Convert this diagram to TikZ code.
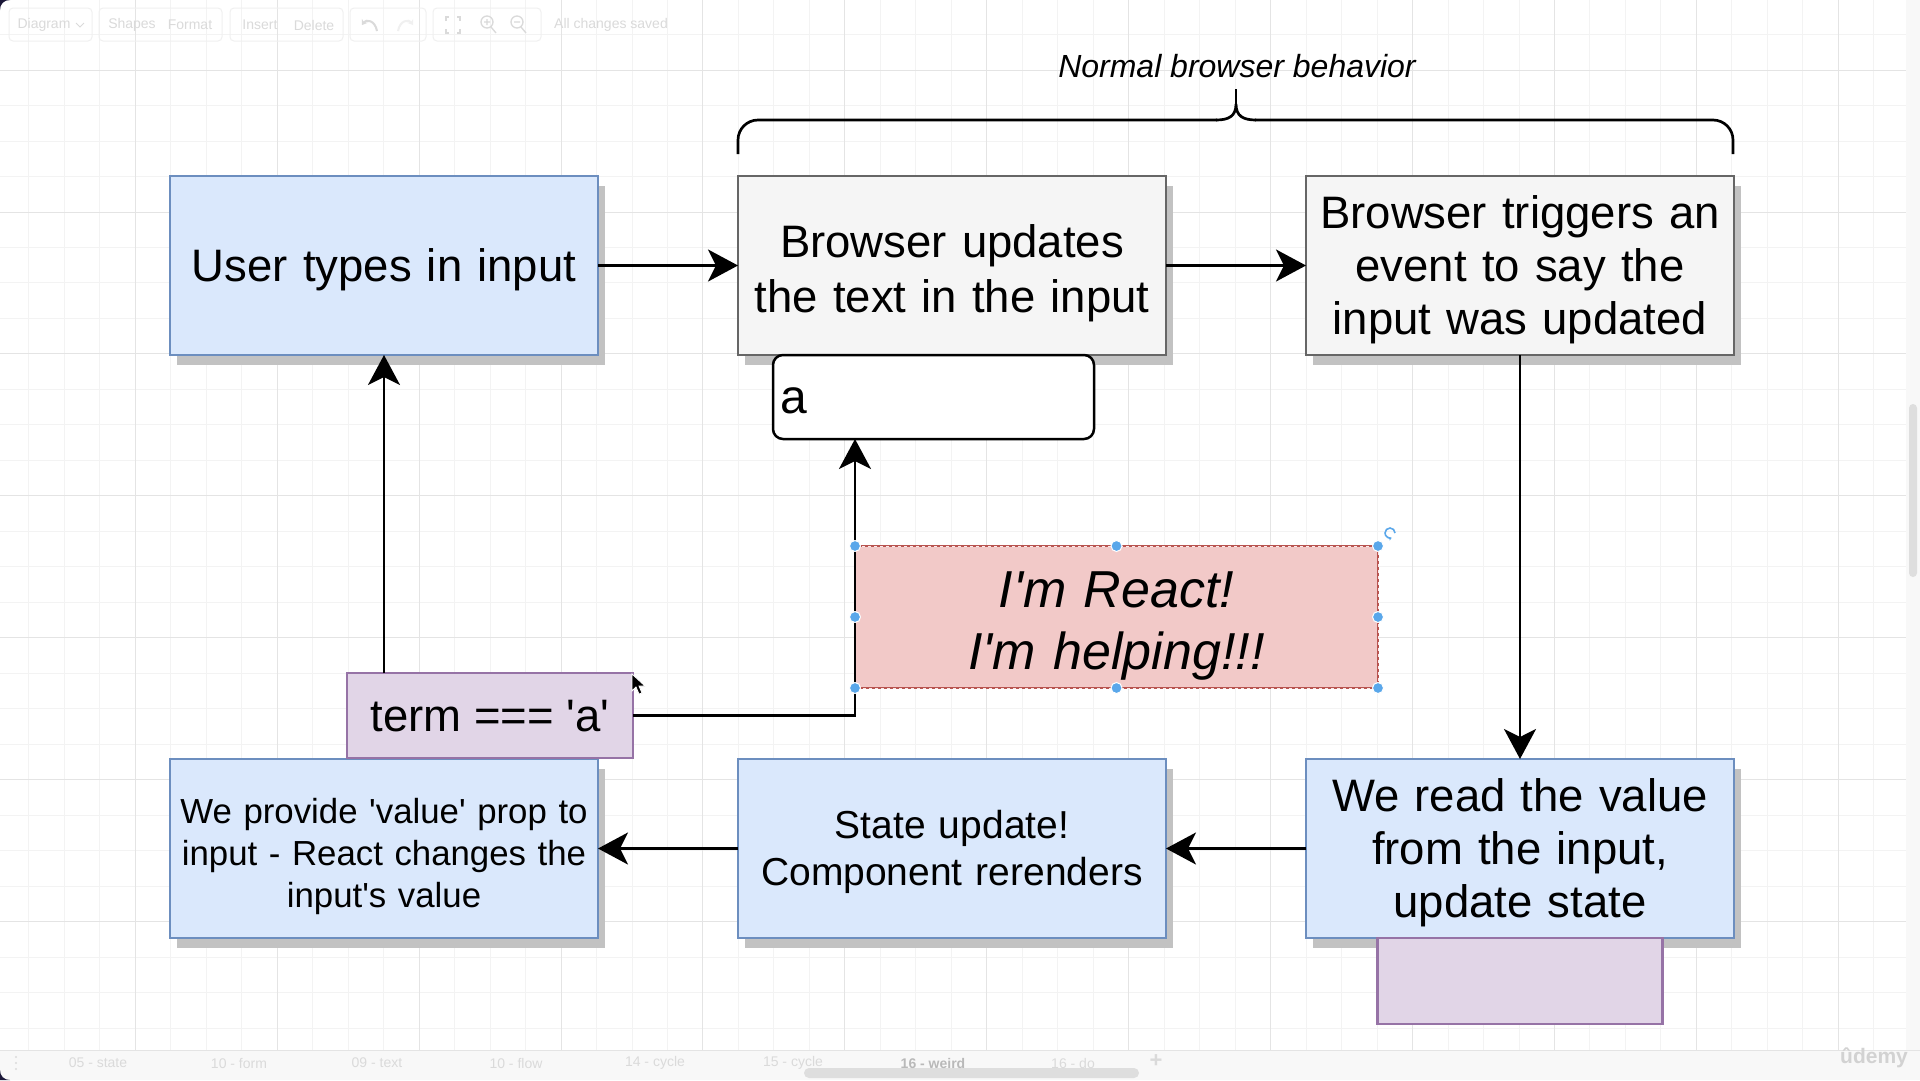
\documentclass[tikz,border=0pt]{standalone}
\usepackage{fontspec}
\setmainfont{Liberation Sans}
\usepackage{tikz}
\usetikzlibrary{positioning, arrows.meta, shadows}
\definecolor{bluefill}{HTML}{DAE8FC}
\definecolor{bluedraw}{HTML}{6C8EBF}
\definecolor{greyfill}{HTML}{F5F5F5}
\definecolor{greydraw}{HTML}{666666}
\definecolor{redfill}{HTML}{F2C9C8}
\definecolor{reddraw}{HTML}{B85450}
\definecolor{purplefill}{HTML}{E1D5E7}
\definecolor{purpledraw}{HTML}{9673A6}
\definecolor{shadowgrey}{HTML}{C2C2C2}
\definecolor{gridminor}{HTML}{F3F3F3}
\definecolor{gridmajor}{HTML}{E4E4E4}
\definecolor{uigrey}{HTML}{DADADA}
\definecolor{uiline}{HTML}{F0F0F0}
\definecolor{panel}{HTML}{F8F8F8}
\definecolor{thumb}{HTML}{DEDEDE}
\definecolor{handle}{HTML}{5AA7EA}
\definecolor{cornerdark}{HTML}{1B1838}
\newcommand{\bigT}{\fontsize{45.5}{53}\selectfont}
\newcommand{\midT}{\fontsize{39}{46.5}\selectfont}
\newcommand{\smallT}{\fontsize{34.8}{42}\selectfont}
\newcommand{\uiT}{\fontsize{14}{16}\selectfont}
\newcommand{\q}{\textquotesingle}
\newcommand{\dstrut}{\rule[-0.25em]{0pt}{1.19em}}

\tikzset{
  boxtext/.style={execute at begin node=\dstrut, execute at end node=\dstrut},
  lowertext/.style={execute at begin node={\rule[-0.25em]{0pt}{\dimexpr1.19em+#1\relax}}},
  flowbox/.style={boxtext, draw=bluedraw, fill=bluefill, line width=2.5pt, minimum width=428pt,
    minimum height=179pt, inner sep=0pt, outer sep=0pt, align=center, text width=420pt,
    drop shadow={shadow xshift=7pt, shadow yshift=-10pt, fill=shadowgrey, opacity=1}},
  browserbox/.style={flowbox, draw=greydraw, fill=greyfill},
  slotbox/.style={draw=purpledraw, fill=purplefill, line width=2.5pt, minimum width=285pt,
    minimum height=86pt, inner sep=0pt, outer sep=0pt},
  arr/.style={-{Stealth[length=30pt, width=32pt, inset=8pt]}, line width=2.7pt},
  uitext/.style={font=\uiT, text=uigrey, inner sep=0pt},
}

\begin{document}
\begin{tikzpicture}[x=1pt, y=-1pt, node distance=404pt and 140pt]
  \useasboundingbox (0,0) rectangle (1920,1080);
  \fill[white] (0,0) rectangle (1920,1080);
  \foreach \k in {-3,...,49}
    \draw[gridminor, line width=1pt] ({135.3+35.48*\k},0) -- ++(0,1050);
  \foreach \k in {-5,...,23}
    \draw[gridminor, line width=1pt] (0,{212+35.48*\k}) -- ++(1906,0);
  \foreach \k in {0,...,12}
    \draw[gridmajor, line width=1pt] ({135.3+141.92*\k},0) -- ++(0,1050);
  \foreach \k in {-1,...,5}
    \draw[gridmajor, line width=1pt] (0,{212+141.92*\k}) -- ++(1906,0);

  \fill[panel] (1906,0) rectangle (1920,1050);
  \fill[thumb, rounded corners=4pt] (1909,404) rectangle (1917,577);
  \fill[panel] (0,1050) rectangle (1920,1080);
  \draw[gridmajor, line width=1pt] (0,1050) -- (1920,1050);
  \fill[thumb, rounded corners=5pt] (804,1068) rectangle (1139,1078);

  \foreach \x/\w in {9/83, 99/123, 230/113, 350/76, 433/108}
    \draw[uiline, line width=1pt, rounded corners=4pt] (\x,8) rectangle ++(\w,33);
  \node[uitext] (tbdiagram) at (44,25) {Diagram};
  \draw[uigrey, line width=1pt] (76,23) -- (80,27) -- (84,23);
  \node[uitext] (tbshapes) at (132,25) {Shapes};
  \node[uitext] (tbformat) at (190,25) {Format};
  \node[uitext] (tbinsert) at (260,25) {Insert};
  \node[uitext] (tbdelete) at (314,25) {Delete};
  \draw[uigrey, line width=2pt, -{Stealth[length=5pt, width=7pt]}] (377,31) .. controls (375,20) and (366,19) .. (362,25);
  \draw[uiline, line width=2pt, -{Stealth[length=5pt, width=7pt]}] (398,31) .. controls (400,20) and (409,19) .. (413,25);
  \draw[uigrey, line width=1.3pt] (446,21) |- (449,17) (457,17) -| (460,21) (460,29) |- (457,33) (449,33) -| (446,29);
  \draw[uigrey, line width=1.3pt] (487,22) circle (6pt) (491,27) -- (496,33) (484,22) -- (490,22) (487,19) -- (487,25);
  \draw[uigrey, line width=1.3pt] (517,22) circle (6pt) (521,27) -- (526,33) (514,22) -- (520,22);
  \node[uitext] (tbsaved) at (611,25) {All changes saved};

  \fill[uigrey] (16,1057) circle (1.2pt) (16,1063) circle (1.2pt) (16,1069) circle (1.2pt);
  \foreach \x/\t in {98/05 - state, 239/10 - form, 377/09 - text, 516/10 - flow,
                     655/14 - cycle, 793/15 - cycle, 1073/16 - do}
    \node[uitext] at (\x,1063) {\t};
  \node[uitext, text=gray!55, font=\uiT\bfseries] (tabweird) at (933,1063) {16 - weird};
  \node[uitext, font=\fontsize{22}{22}\selectfont\bfseries] (tabplus) at (1156,1061) {+};
  \node[font=\fontsize{21}{21}\selectfont\bfseries, text=gray!35] (udemy) at (1874,1058) {ûdemy};

  \fill[cornerdark] (0,0) -- (10,0) .. controls (4,0) and (0,4) .. (0,10) -- cycle;
  \fill[cornerdark] (0,1080) -- (0,1070) .. controls (0,1076) and (4,1080) .. (10,1080) -- cycle;

  \node[font=\itshape\fontsize{32}{38}\selectfont] (brlabel) at (1237,66) {Normal browser behavior};
  \draw[line width=2.7pt, rounded corners=20pt] (738,154) |- (1217,120);
  \draw[line width=2.7pt, rounded corners=20pt] (1733,154) |- (1255,120);
  \draw[line width=2.7pt] (1216,120) .. controls (1229,120) and (1236,116) .. (1236,104)
    .. controls (1236,116) and (1243,120) .. (1256,120);
  \draw[line width=2.7pt] (1236,106) -- (1236,89);

  \node[flowbox, font=\bigT] (user) at (384,265.5) {User types in input};
  \node[browserbox, lowertext=7pt, font=\bigT, right=of user] (upd) {Browser updates\\the text in the input};
  \node[browserbox, font=\bigT, right=of upd] (trig) {Browser triggers an\\event to say the\\input was updated};
  \node[flowbox, font=\bigT, below=of trig] (read) {We read the value\\from the input,\\update state};
  \node[flowbox, font=\midT, left=of read] (state) {State update!\\Component rerenders};
  \node[flowbox, lowertext=10pt, font=\smallT, left=of state] (prov)
    {We provide \q value\q{} prop to\\input - React changes the\\input\q s value};
  \node[slotbox, below=0pt of read] (slot) {};
  \node[boxtext, draw, fill=white, line width=2.5pt, rounded corners=10pt, minimum width=321pt,
        minimum height=84pt, inner xsep=7pt, inner ysep=0pt, text width=307pt, align=left,
        outer sep=0pt, font=\fontsize{48}{56}\selectfont, anchor=north west]
    (inp) at ([xshift=35pt]upd.south west) {a};
  \node[boxtext, lowertext=8pt, draw=reddraw, fill=redfill, line width=2pt, minimum width=523pt,
        minimum height=142pt, inner sep=0pt, outer sep=0pt, align=center, text width=510pt,
        font=\itshape\fontsize{52}{62}\selectfont]
    (react) at (1116.5,617) {I\q m React!\\I\q m helping!!!};
  \draw[redfill!40, line width=0.8pt, dash pattern=on 3pt off 3pt]
    (react.north west) rectangle (react.south east);
  \node[slotbox, boxtext, minimum width=286pt, minimum height=85pt, font=\bigT] (term) at (490,715.5) {term === \q a\q};

  \draw[arr] (user) -- (upd);
  \draw[arr] (upd) -- (trig);
  \draw[arr] (trig) -- (read);
  \draw[arr] (read) -- (state);
  \draw[arr] (state) -- (prov);
  \draw[arr] (term.north -| user.south) -- (user.south);
  \draw[arr] (term.east) -| (react.west |- inp.south);

  \foreach \a in {north west, north, north east, east, south east, south, south west, west}
    \filldraw[fill=handle, draw=white, line width=1pt] (react.\a) circle (5.5pt);
  \draw[handle, line width=1.6pt, -{Stealth[length=3pt, width=4pt]}]
    (1395,533) arc[start angle=0, end angle=290, radius=5pt];
  \filldraw[fill=black, draw=white, line width=0.8pt] (632,674) -- (632,691) -- (636,687)
    -- (639,694) -- (642,693) -- (639,686) -- (645,686) -- cycle;
\end{tikzpicture}
\end{document}
